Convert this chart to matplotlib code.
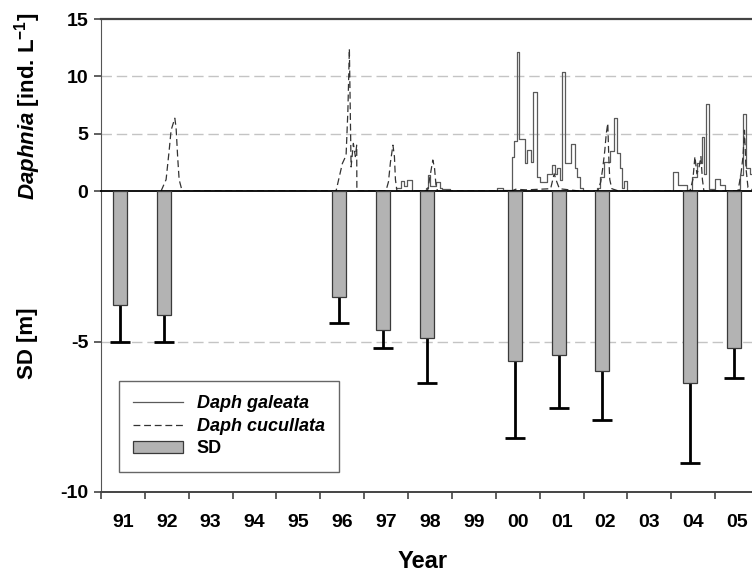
import numpy as np
import matplotlib
matplotlib.use('Agg')
import matplotlib.pyplot as plt

plt.rcParams['font.family'] = 'Liberation Sans'
plt.rcParams['font.weight'] = 'bold'
plt.rcParams['axes.unicode_minus'] = False
plt.rcParams['mathtext.fontset'] = 'custom'
plt.rcParams['mathtext.rm'] = 'Liberation Sans:bold'
plt.rcParams['mathtext.it'] = 'Liberation Sans:bold:italic'
plt.rcParams['mathtext.bf'] = 'Liberation Sans:bold'

# ---- Secchi depth (summer mean and std), metres ----
sd_years = [1991, 1992, 1996, 1997, 1998, 2000, 2001, 2002, 2004, 2005]
sd_mean = [3.78, 4.12, 3.51, 4.61, 4.87, 5.66, 5.44, 5.99, 6.38, 5.23]
sd_err = [1.22, 0.88, 0.88, 0.59, 1.52, 2.55, 1.76, 1.61, 2.64, 0.97]

# ---- Daphnia galeata (ind. L-1), step series, decimal year ----
gal_t = [1997.735, 1997.849, 1997.918, 1997.986, 1998.100,
         1998.420, 1998.454, 1998.489, 1998.648, 1998.717, 1998.763, 1998.945,
         2000.018, 2000.155, 2000.370, 2000.416, 2000.484, 2000.532, 2000.658,
         2000.703, 2000.795, 2000.840, 2000.932,
         2001.000, 2001.160, 2001.274, 2001.342, 2001.388, 2001.457, 2001.514,
         2001.571, 2001.708, 2001.799, 2001.845, 2001.913, 2001.982,
         2002.301, 2002.370, 2002.461, 2002.598, 2002.689, 2002.769, 2002.826,
         2002.872, 2002.918, 2002.986,
         2004.037, 2004.151, 2004.356, 2004.463, 2004.584, 2004.692, 2004.744,
         2004.790, 2004.852, 2004.995, 2005.110, 2005.224,
         2005.543, 2005.566, 2005.646, 2005.715, 2005.795, 2005.932]
gal_v = [0.3, 0.9, 0.4, 1.0, 0.0,
         0.3, 1.4, 0.4, 0.8, 0.3, 0.2, 0.0,
         0.3, 0.1, 3.0, 4.4, 12.1, 4.5, 2.4,
         3.6, 2.5, 8.6, 1.2,
         0.8, 1.5, 2.3, 1.5, 2.0, 1.0, 10.4,
         2.4, 4.1, 2.0, 1.2, 0.3, 0.0,
         0.3, 1.2, 2.5, 3.5, 6.4, 3.3, 2.0,
         0.3, 0.9, 0.0,
         1.7, 0.5, 0.1, 1.25, 2.4, 4.7, 1.5,
         7.55, 0.2, 1.05, 0.5, 0.0,
         0.2, 1.4, 6.7, 2.0, 1.5, 0.0]

# ---- Daphnia cucullata (ind. L-1), decimal year ----
cuc_t = [1992.370, 1992.484, 1992.553, 1992.598, 1992.683, 1992.712, 1992.747,
         1992.781, 1992.849,
         1996.358, 1996.502, 1996.587, 1996.628, 1996.662, 1996.701, 1996.753,
         1996.799, 1996.829, 1996.833,
         1997.495, 1997.553, 1997.598, 1997.655, 1997.689, 1997.712, 1997.747,
         1998.443, 1998.511, 1998.564, 1998.603, 1998.637, 1998.671,
         2000.360, 2000.450, 2000.700, 2001.250, 2001.330, 2001.390, 2001.450,
         2001.900,
         2002.324, 2002.393, 2002.438, 2002.484, 2002.518, 2002.553, 2002.575,
         2002.598, 2002.644, 2002.800,
         2004.425, 2004.493, 2004.539, 2004.584, 2004.630, 2004.676, 2004.710,
         2004.744,
         2005.521, 2005.589, 2005.635, 2005.669, 2005.703, 2005.749, 2005.909]
cuc_v = [0.0, 1.0, 3.5, 5.3, 6.35, 5.5, 3.0, 1.0, 0.0,
         0.0, 2.4, 3.1, 7.0, 12.4, 2.1, 4.15, 3.0, 4.0, 0.0,
         0.0, 0.8, 2.5, 4.0, 3.0, 1.0, 0.0,
         0.0, 1.5, 2.7, 2.0, 0.5, 0.0,
         0.0, 0.15, 0.1, 0.2, 1.5, 0.8, 0.2, 0.0,
         0.0, 0.8, 2.0, 3.5, 5.0, 5.9, 3.0, 1.0, 0.2, 0.0,
         0.0, 1.0, 3.0, 1.5, 2.0, 3.0, 1.0, 0.0,
         0.0, 1.5, 3.0, 5.3, 2.0, 0.3, 0.0]

year_ticks = list(range(1991, 2007))
year_labels = ['91', '92', '93', '94', '95', '96', '97', '98', '99',
               '00', '01', '02', '03', '04', '05']

# ---- figure: two stacked panels sharing the year axis ----
fig = plt.figure(figsize=(7.52, 5.74), dpi=100)
ax_top = fig.add_axes([101/752, 1 - 191/574, 658/752, 172/574])
ax_bot = fig.add_axes([101/752, 1 - 492/574, 658/752, 301/574], sharex=ax_top)

grid_kw = dict(color='#c4c4c4', lw=1.0, dashes=(7.5, 3.5), zorder=0)

# upper panel: Daphnia abundance
ax_top.step(gal_t, gal_v, where='post', color='#5a5a5a', lw=0.9, zorder=3,
            label='Daph galeata')
ax_top.plot(cuc_t, cuc_v, color='#333333', lw=0.9, dashes=(5.5, 3), zorder=4,
            label='Daph cucullata')
for v in [5, 10]:
    ax_top.axhline(v, **grid_kw)
ax_top.set_ylim(0, 15)
ax_top.set_yticks([0, 5, 10, 15])
ax_top.spines['right'].set_visible(False)
ax_top.spines['bottom'].set_visible(False)
ax_top.spines['top'].set_color('#444444')
ax_top.spines['top'].set_linewidth(1.6)
ax_top.spines['left'].set_color('#555555')
ax_top.tick_params(axis='x', bottom=False, labelbottom=False)

# lower panel: Secchi depth bars with downward std
xpos = np.array(sd_years) + 0.43
depth = -np.array(sd_mean)
ax_bot.bar(xpos, depth, width=0.32, color='#b3b3b3', edgecolor='#3a3a3a',
           lw=0.9, zorder=3, label='SD')
ax_bot.vlines(xpos, depth, depth - np.array(sd_err), color='black', lw=2,
              zorder=2)
ax_bot.plot(xpos, depth - np.array(sd_err), ls='none', marker='_', ms=14,
            mew=2, color='black', zorder=2)
ax_bot.axhline(-5, **grid_kw)
ax_bot.set_ylim(-10, 0)
ax_bot.set_yticks([-10, -5])
ax_bot.spines['right'].set_visible(False)
ax_bot.spines['top'].set_color('black')
ax_bot.spines['top'].set_linewidth(1.3)
ax_bot.spines['bottom'].set_color('#444444')
ax_bot.spines['bottom'].set_linewidth(1.4)
ax_bot.spines['left'].set_color('#555555')

ax_bot.set_xlim(1991, 2006)
ax_bot.set_xticks(year_ticks)
ax_bot.set_xticklabels([])
ax_bot.set_xticks(np.arange(1991, 2006) + 0.5, minor=True)
ax_bot.set_xticklabels(year_labels, minor=True)
ax_bot.tick_params(axis='x', which='major', direction='out', length=5,
                   width=1.2, color='#444444')
ax_bot.tick_params(axis='x', which='minor', length=0, pad=16, labelsize=14)

for ax in (ax_top, ax_bot):
    ax.tick_params(axis='y', direction='out', length=5, width=1.2,
                   color='#444444', labelsize=14, pad=4)

fig.text(0.037, 1 - 106/574, r'$\it{Daphnia}$ [ind. L$^{-1}$]', rotation=90,
         ha='center', va='center', fontsize=16)
fig.text(0.037, 1 - 343/574, 'SD [m]', rotation=90, ha='center', va='center',
         fontsize=16)
fig.text((101 + 658 / 2) / 752 - 0.01, 1 - 561/574, 'Year', ha='center',
         va='center', fontsize=17)

handles = ax_top.get_legend_handles_labels()[0] + ax_bot.get_legend_handles_labels()[0]
labels = ['Daph galeata', 'Daph cucullata', 'SD']
leg = fig.legend(handles, labels, loc='upper left',
                 bbox_to_anchor=(119/752, 1 - 381/574), borderaxespad=0,
                 fancybox=False, framealpha=1, edgecolor='#666666',
                 fontsize=13, handlelength=2.75, handletextpad=0.75,
                 borderpad=0.8, labelspacing=0.3)
leg.get_frame().set_linewidth(1.0)
leg.get_texts()[0].set_style('italic')
leg.get_texts()[1].set_style('italic')

fig.savefig('out.png', dpi=100)
